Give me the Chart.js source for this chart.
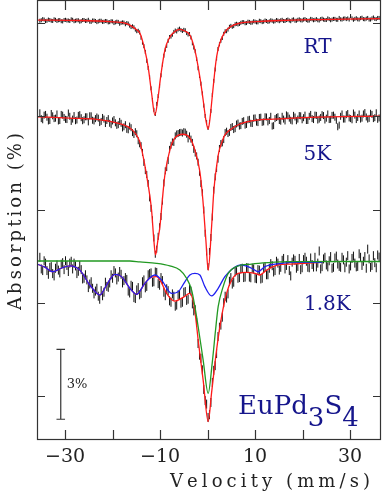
<!DOCTYPE html>
<html><head><meta charset="utf-8">
<script src="https://cdn.jsdelivr.net/npm/chart.js@4.4.1/dist/chart.umd.min.js"></script>
<style>html,body{margin:0;padding:0;background:#fff;}#wrap{width:382px;height:494px;}</style>
</head><body><div id="wrap"><canvas id="c" width="382" height="494"></canvas></div>
<script>
// ---- data (velocity in mm/s, absorption in % with stacking offsets) ----
const velocityA = [-35.3,-34.7,-34.1,-33.5,-32.9,-32.3,-31.7,-31.1,-30.5,-29.9,
-29.3,-28.7,-28.1,-27.5,-26.9,-26.3,-25.7,-25.1,-24.5,-23.9,
-23.3,-22.7,-22.1,-21.5,-20.9,-20.3,-19.7,-19.1,-18.5,-17.9,
-17.3,-16.7,-16.1,-15.5,-14.9,-14.3,-13.7,-13.1,-12.5,-11.9,
-11.3,-10.7,-10.1,-9.5,-8.9,-8.3,-7.7,-7.1,-6.5,-5.9,
-5.3,-4.7,-4.1,-3.5,-2.9,-2.3,-1.7,-1.1,-0.5,0.1,
0.7,1.3,1.9,2.5,3.1,3.7,4.3,4.9,5.5,6.1,
6.7,7.3,7.9,8.5,9.1,9.7,10.3,10.9,11.5,12.1,
12.7,13.3,13.9,14.5,15.1,15.7,16.3,16.9,17.5,18.1,
18.7,19.3,19.9,20.5,21.1,21.7,22.3,22.9,23.5,24.1,
24.7,25.3,25.9,26.5,27.1,27.7,28.3,28.9,29.5,30.1,
30.7,31.3,31.9,32.5,33.1,33.7,34.3,34.9,35.5,36.1];
const velocityB = [-35.0,-34.4,-33.8,-33.2,-32.6,-32.0,-31.4,-30.8,-30.2,-29.6,
-29.0,-28.4,-27.8,-27.2,-26.6,-26.0,-25.4,-24.8,-24.2,-23.6,
-23.0,-22.4,-21.8,-21.2,-20.6,-20.0,-19.4,-18.8,-18.2,-17.6,
-17.0,-16.4,-15.8,-15.2,-14.6,-14.0,-13.4,-12.8,-12.2,-11.6,
-11.0,-10.4,-9.8,-9.2,-8.6,-8.0,-7.4,-6.8,-6.2,-5.6,
-5.0,-4.4,-3.8,-3.2,-2.6,-2.0,-1.4,-0.8,-0.2,0.4,
1.0,1.6,2.2,2.8,3.4,4.0,4.6,5.2,5.8,6.4,
7.0,7.6,8.2,8.8,9.4,10.0,10.6,11.2,11.8,12.4,
13.0,13.6,14.2,14.8,15.4,16.0,16.6,17.2,17.8,18.4,
19.0,19.6,20.2,20.8,21.4,22.0,22.6,23.2,23.8,24.4,
25.0,25.6,26.2,26.8,27.4,28.0,28.6,29.2,29.8,30.4,
31.0,31.6,32.2,32.8,33.4,34.0,34.6,35.2,35.8,36.4];

const rtDataA = [-0.10,-0.17,-0.08,-0.15,-0.10,-0.16,-0.09,-0.13,-0.07,-0.14,
-0.11,-0.16,-0.08,-0.12,-0.06,-0.13,-0.09,-0.14,-0.05,-0.11,
-0.04,-0.10,-0.05,-0.09,-0.03,-0.08,0.00,-0.06,0.03,-0.03,
0.05,0.02,0.17,0.18,0.35,0.40,0.84,1.24,1.93,2.80,
3.72,3.47,2.70,1.78,1.14,0.76,0.58,0.38,0.36,0.24,
0.34,0.31,0.49,0.62,1.05,1.54,2.27,3.02,3.99,4.50,
3.77,2.48,1.52,0.91,0.64,0.35,0.28,0.12,0.13,0.03,
0.04,-0.04,0.01,-0.06,-0.01,-0.08,-0.03,-0.10,-0.04,-0.11,
-0.05,-0.12,-0.06,-0.13,-0.08,-0.14,-0.09,-0.15,-0.08,-0.16,
-0.10,-0.16,-0.11,-0.17,-0.10,-0.18,-0.12,-0.17,-0.11,-0.19,
-0.13,-0.20,-0.12,-0.18,-0.14,-0.22,-0.15,-0.20,-0.20,-0.30,
-0.14,-0.21,-0.15,-0.23,-0.16,-0.22,-0.15,-0.24,-0.17,-0.22];
const rtDataB = [-0.12,-0.15,-0.10,-0.13,-0.09,-0.14,-0.12,-0.08,-0.13,-0.11,
-0.09,-0.14,-0.10,-0.12,-0.08,-0.13,-0.10,-0.06,-0.11,-0.09,
-0.07,-0.10,-0.06,-0.08,-0.04,-0.07,-0.03,-0.05,-0.01,-0.02,
0.00,0.11,0.14,0.28,0.33,0.63,0.99,1.62,2.32,3.30,
3.90,3.13,2.24,1.40,0.98,0.60,0.50,0.32,0.28,0.30,
0.29,0.43,0.47,0.87,1.21,1.94,2.60,3.54,4.25,4.24,
3.08,1.99,1.11,0.76,0.46,0.35,0.16,0.16,0.05,0.06,
-0.01,-0.04,0.00,-0.05,-0.02,-0.06,-0.03,-0.08,-0.06,-0.09,
-0.07,-0.10,-0.08,-0.11,-0.12,-0.09,-0.13,-0.11,-0.14,-0.10,
-0.14,-0.12,-0.15,-0.13,-0.11,-0.16,-0.14,-0.12,-0.17,-0.15,
-0.13,-0.17,-0.15,-0.18,-0.14,-0.16,-0.19,-0.17,-0.15,-0.20,
-0.18,-0.16,-0.21,-0.17,-0.19,-0.15,-0.20,-0.18,-0.22,-0.16];

const k5DataA = [3.85,4.15,3.92,4.20,3.88,4.10,3.90,4.18,3.95,4.13,
3.86,4.22,3.97,4.16,3.93,4.19,4.02,4.24,3.98,4.20,
4.03,4.27,4.05,4.31,4.10,4.36,4.14,4.39,4.22,4.50,
4.36,4.58,4.49,4.78,4.75,5.18,5.55,6.33,6.88,7.95,
9.22,9.70,8.74,7.64,6.34,5.90,5.24,5.12,4.76,4.70,
4.72,4.68,4.97,4.98,5.42,5.70,6.40,7.28,9.02,10.45,
9.20,7.17,6.24,5.38,5.14,4.70,4.74,4.48,4.57,4.33,
4.42,4.22,4.38,4.15,4.30,4.08,4.25,4.05,4.26,4.02,
4.24,4.00,4.40,4.05,4.18,4.00,4.20,3.98,4.17,3.96,
4.19,3.97,4.15,3.95,4.18,3.92,4.14,3.96,4.12,3.93,
4.16,3.90,4.13,3.95,4.17,4.38,3.90,4.12,3.88,4.10,
3.86,4.14,3.90,4.08,3.84,4.12,3.87,4.10,3.85,4.07];
const k5DataB = [4.10,3.95,4.04,4.18,3.98,4.08,4.20,3.92,4.05,4.14,
4.00,4.12,4.19,3.96,4.06,4.15,4.02,3.98,4.17,4.10,
4.08,4.22,4.12,4.18,4.30,4.20,4.28,4.36,4.30,4.45,
4.56,4.42,4.70,4.66,5.05,5.26,5.98,6.50,7.50,8.44,
9.92,9.15,8.30,6.86,6.20,5.42,5.10,4.84,4.74,4.69,
4.66,4.77,4.84,5.12,5.58,5.97,6.89,8.02,9.82,9.80,
8.32,6.60,5.84,5.17,5.00,4.64,4.69,4.44,4.53,4.29,
4.40,4.19,4.35,4.13,4.31,4.07,4.27,4.04,4.24,4.03,
4.18,4.42,4.10,4.02,4.21,4.12,3.94,4.08,4.20,4.03,
4.12,3.98,4.06,4.18,4.00,4.10,3.95,4.16,4.05,3.97,
4.08,4.14,3.96,4.04,4.45,4.00,4.12,3.93,4.07,4.15,
3.95,4.05,4.12,3.90,4.03,4.09,3.92,4.06,4.13,3.96];

const k18DataA = [10.05,10.62,10.30,10.78,10.45,10.85,10.38,10.72,10.28,10.20,
10.66,10.22,10.30,10.75,10.40,10.98,10.80,11.35,11.10,11.62,
11.38,11.85,11.70,11.12,11.34,10.80,10.62,11.02,10.66,11.15,
10.92,11.50,11.25,11.78,11.45,11.66,11.10,11.36,10.80,10.72,
11.10,10.70,11.25,11.05,11.70,11.48,11.98,11.72,12.10,11.65,
11.98,11.52,11.85,11.50,12.35,12.85,14.25,14.88,16.20,16.92,
16.28,14.90,14.18,13.05,12.62,11.72,11.62,10.92,11.12,10.62,
10.92,10.52,10.90,10.50,10.93,10.55,10.97,10.60,10.95,10.45,
10.80,10.32,10.68,10.22,10.60,10.18,10.55,10.15,10.85,10.12,
10.52,10.10,10.50,10.05,10.48,10.08,10.47,10.46,9.78,10.45,
10.05,10.46,10.02,10.48,10.00,10.44,10.05,10.50,9.98,10.42,
10.00,10.46,9.90,10.40,10.02,9.70,10.48,9.98,10.50,10.04];
const k18DataB = [10.55,10.20,10.62,10.48,10.75,10.52,10.60,10.35,10.58,10.40,
10.30,10.55,10.42,10.65,10.58,10.95,11.02,11.20,11.38,11.50,
11.72,11.48,11.55,11.30,11.15,10.95,10.72,10.90,10.78,11.05,
11.00,11.58,11.30,11.82,11.35,11.60,11.02,11.30,10.75,11.12,
10.68,11.18,10.92,11.55,11.40,11.92,11.62,12.15,11.66,12.02,
11.55,11.90,11.42,12.05,12.30,13.75,14.38,15.72,16.35,16.80,
15.42,14.70,13.45,12.96,12.00,11.80,11.08,11.20,10.68,10.95,
10.55,10.92,10.50,10.90,10.52,10.95,10.58,10.98,10.50,10.80,
10.52,10.41,10.62,10.30,10.48,10.10,10.40,10.62,10.26,10.18,
10.44,10.58,10.15,10.22,10.50,10.36,10.05,10.30,10.55,10.12,
10.38,10.20,10.52,10.08,10.34,10.48,10.16,10.26,10.55,10.10,
10.30,10.44,10.05,10.22,10.52,10.12,10.40,10.28,9.95,10.35];

// fitted curves
const rtFitV = [-35.94,-26.88,-20.57,-17.41,-16.36,-14.88,-14.25,-13.2,-12.5,-11.79,-11.09,-10.4,-9.89,-8.99,-7.94,-6.88,-5.83,-4.78,-3.73,-2.67,-1.62,-0.93,-0.36,0.13,0.59,0.91,1.33,1.75,2.17,2.8,3.64,4.69,6.8,10.3,15.2,23.6,36.5];
const rtFitY = [-0.13,-0.11,-0.06,0,0.09,0.30,0.43,1.16,1.89,3.0,3.95,3.17,2.32,1.16,0.60,0.36,0.27,0.34,0.51,1.16,2.32,3.30,4.16,4.55,3.95,3.30,2.45,1.67,1.16,0.73,0.39,0.17,0,-0.06,-0.11,-0.15,-0.19];

const k5FitV = [-35.94,-28.99,-23.37,-19.16,-16.36,-15.09,-14.25,-13.41,-12.57,-11.79,-11.31,-10.95,-10.46,-10.04,-9.52,-8.99,-7.94,-6.88,-5.14,-3.73,-2.67,-1.62,-0.99,-0.36,0.13,0.84,1.33,1.89,2.38,2.95,3.64,4.69,6.8,10.32,13.12,21.54,36.5];
const k5FitY = [4.02,4.08,4.13,4.28,4.50,4.76,5.11,5.88,6.86,8.02,9.31,9.95,9.31,8.75,7.59,6.52,5.45,4.93,4.77,4.93,5.45,6.38,7.59,9.31,10.60,8.75,7.16,6.16,5.53,5.15,4.80,4.59,4.33,4.16,4.13,4.05,3.99];

const k18TotalV = [-35.94,-34.25,-32.57,-30.67,-28.99,-26.88,-24.78,-22.67,-21.26,-19.52,-18.11,-16.36,-14.95,-13.2,-12.15,-10.74,-9.68,-8.63,-6.88,-5.14,-3.73,-3.09,-2.57,-1.98,-0.93,0.13,0.84,1.89,2.95,4.0,5.05,6.44,8.21,9.96,11.01,12.42,14.86,17.68,24.2];
const k18TotalY = [10.34,10.47,10.67,10.51,10.42,10.60,11.24,11.67,11.24,10.78,10.88,11.38,11.64,11.17,10.94,10.88,11.15,11.60,11.93,11.77,11.60,11.88,12.53,13.60,15.32,17.10,15.87,14.03,12.60,11.60,11.03,10.74,10.70,10.74,10.81,10.60,10.38,10.34,10.27];

const k18MagV = [-35.94,-34.25,-32.57,-30.67,-28.99,-26.88,-24.78,-22.67,-21.26,-19.52,-18.11,-16.36,-14.95,-13.2,-11.09,-9.68,-7.58,-6.19,-4.78,-3.73,-2.67,-1.62,-0.57,0.84,2.23,3.64,5.39,7.16,9.26,10.65,12.06,15.58,17.68,24.2];
const k18MagY = [10.34,10.47,10.67,10.51,10.42,10.60,11.24,11.67,11.24,10.78,10.88,11.38,11.64,11.17,10.81,11.03,11.60,11.53,11.10,10.81,10.74,10.81,11.31,11.71,11.38,10.88,10.52,10.38,10.52,10.67,10.45,10.31,10.27,10.27];

const k18ParaV = [-35.94,-16.36,-14.25,-10.74,-7.94,-5.83,-4.42,-3.37,-2.67,-1.98,-0.93,0.13,0.97,1.68,2.23,3.28,4.34,6.11,9.26,12.76,17.68,36.48];
const k18ParaY = [10.21,10.21,10.25,10.31,10.42,10.60,10.95,11.45,12.17,13.03,14.46,15.89,14.60,13.17,12.17,11.31,10.74,10.45,10.34,10.28,10.24,10.23];

const xTickValues = [-30,-20,-10,0,10,20,30];
const xTickLabels = ['\u221230','','\u221210','','10','','30'];
const yTickValues = [0,4,8,12,16];

const spectrumLabels = ['RT','5K','1.8K'];
const spectrumLabelPos = [[20.2,1.29],[20.2,5.88],[20.3,12.31]];
const compoundParts = [['EuPd',0],['3',1],['S',0],['4',1]];
const compoundPos = [6.4,16.74];
const scaleBar = {v:-30.9, from:14, to:17, label:'3%'};

// ---- chart ----
function pts(xs, ys){ return xs.map((v,i)=>({x:v, y:ys[i]})); }
const NAVY = '#16168c';

function drawSpaced(ctx, text, cx, baseY, target){
  const chars = [...text];
  const ws = chars.map(c=>ctx.measureText(c).width);
  const nat = ws.reduce((a,b)=>a+b,0);
  const sp = (target - nat)/(chars.length-1);
  let x = cx - target/2;
  ctx.textAlign = 'left';
  chars.forEach((c,i)=>{ ctx.fillText(c, x, baseY); x += ws[i] + sp; });
}

const decor = {
  id:'decor',
  afterDraw(chart){
    const {ctx, chartArea:a, scales:{x, y}} = chart;
    ctx.save();
    ctx.strokeStyle = '#333';
    ctx.lineWidth = 1.2;
    ctx.strokeRect(a.left+0.5, a.top+0.5, a.right-a.left-1, a.bottom-a.top-1);
    ctx.beginPath();
    xTickValues.forEach(v=>{
      const px = Math.round(x.getPixelForValue(v))+0.5;
      ctx.moveTo(px, a.bottom); ctx.lineTo(px, a.bottom-10);
      ctx.moveTo(px, a.top); ctx.lineTo(px, a.top+10);
    });
    yTickValues.forEach(v=>{
      const py = Math.round(y.getPixelForValue(v))+0.5;
      ctx.moveTo(a.left, py); ctx.lineTo(a.left+8, py);
      ctx.moveTo(a.right, py); ctx.lineTo(a.right-8, py);
    });
    ctx.stroke();

    ctx.fillStyle = NAVY;
    ctx.font = '20px "DejaVu Serif"';
    ctx.textAlign = 'left'; ctx.textBaseline = 'alphabetic';
    spectrumLabels.forEach((t,i)=>{
      ctx.fillText(t, x.getPixelForValue(spectrumLabelPos[i][0]), y.getPixelForValue(spectrumLabelPos[i][1]));
    });
    ctx.font = '26px "DejaVu Serif"';
    let cx = x.getPixelForValue(compoundPos[0]);
    const by = y.getPixelForValue(compoundPos[1]);
    compoundParts.forEach(([t,sub])=>{
      ctx.fillText(t, cx, by + (sub ? 13 : 1));
      cx += ctx.measureText(t).width;
    });
    ctx.fillStyle = '#222';
    ctx.font = '13px "DejaVu Serif"';
    ctx.textBaseline = 'middle';
    ctx.fillText(scaleBar.label, x.getPixelForValue(scaleBar.v)+6, y.getPixelForValue((scaleBar.from+scaleBar.to)/2));
    ctx.textBaseline = 'alphabetic';
    ctx.font = '18px "DejaVu Serif"';
    drawSpaced(ctx, 'Velocity (mm/s)', 270, 487, 200);
    ctx.save();
    ctx.translate(21, 221.5);
    ctx.rotate(-Math.PI/2);
    drawSpaced(ctx, 'Absorption (%)', 0, 0, 177);
    ctx.restore();
    ctx.restore();
  }
};

const dataStyle = {type:'scatter', pointStyle:'line', rotation:90, borderColor:'#111', borderWidth:1, showLine:false, order:10};
const fitStyle = {type:'line', showLine:true, pointRadius:0, fill:false, borderWidth:1.3, cubicInterpolationMode:'monotone'};
const noPad = s => { s.paddingLeft = 0; s.paddingRight = 0; s.paddingTop = 0; s.paddingBottom = 0; };

new Chart(document.getElementById('c'), {
  type:'scatter',
  data:{datasets:[
    Object.assign({}, fitStyle, {label:'para', data:pts(k18ParaV,k18ParaY), borderColor:'#229922', order:1}),
    Object.assign({}, fitStyle, {label:'mag', data:pts(k18MagV,k18MagY), borderColor:'#2020f0', order:2}),
    Object.assign({}, fitStyle, {label:'fit18', data:pts(k18TotalV,k18TotalY), borderColor:'#ff1a1a', order:3}),
    Object.assign({}, fitStyle, {label:'fit5', data:pts(k5FitV,k5FitY), borderColor:'#ff1a1a', order:3}),
    Object.assign({}, fitStyle, {label:'fitRT', data:pts(rtFitV,rtFitY), borderColor:'#ff1a1a', order:3}),
    Object.assign({}, dataStyle, {label:'1.8K a', data:pts(velocityA,k18DataA), pointRadius:4.5}),
    Object.assign({}, dataStyle, {label:'1.8K b', data:pts(velocityB,k18DataB), pointRadius:4.5}),
    Object.assign({}, dataStyle, {label:'5K a', data:pts(velocityA,k5DataA), pointRadius:3.5}),
    Object.assign({}, dataStyle, {label:'5K b', data:pts(velocityB,k5DataB), pointRadius:3.5}),
    Object.assign({}, dataStyle, {label:'RT a', data:pts(velocityA,rtDataA), pointRadius:2}),
    Object.assign({}, dataStyle, {label:'RT b', data:pts(velocityB,rtDataB), pointRadius:2}),
    {type:'line', label:'bar', showLine:true, pointRadius:0, borderColor:'#333', borderWidth:1.2, tension:0, order:5,
     data:[{x:scaleBar.v-0.9,y:scaleBar.from},{x:scaleBar.v+0.9,y:scaleBar.from},{x:scaleBar.v,y:scaleBar.from},
           {x:scaleBar.v,y:scaleBar.to},{x:scaleBar.v-0.9,y:scaleBar.to},{x:scaleBar.v+0.9,y:scaleBar.to}]}
  ]},
  options:{
    responsive:false, devicePixelRatio:1, animation:false, events:[],
    layout:{autoPadding:false, padding:{top:0,right:1,left:0,bottom:0}},
    plugins:{legend:{display:false}, tooltip:{enabled:false}},
    scales:{
      x:{type:'linear', position:'bottom', min:-35.9, max:36.5,
         grid:{display:false, drawTicks:false}, border:{display:false},
         afterBuildTicks:s=>{ s.ticks = xTickValues.map(v=>({value:v})); },
         afterFit:s=>{ s.height = 54; noPad(s); },
         ticks:{autoSkip:false, maxRotation:0, padding:6, color:'#222',
                font:{family:'DejaVu Serif', size:19},
                callback:(v)=>{ const i = xTickValues.indexOf(v); return i>=0 ? xTickLabels[i] : ''; }}},
      y:{type:'linear', reverse:true, min:-0.99, max:17.89,
         grid:{display:false, drawTicks:false}, border:{display:false},
         ticks:{display:false},
         afterFit:s=>{ s.width = 37; noPad(s); }}
    }
  },
  plugins:[decor]
});
</script></body></html>
